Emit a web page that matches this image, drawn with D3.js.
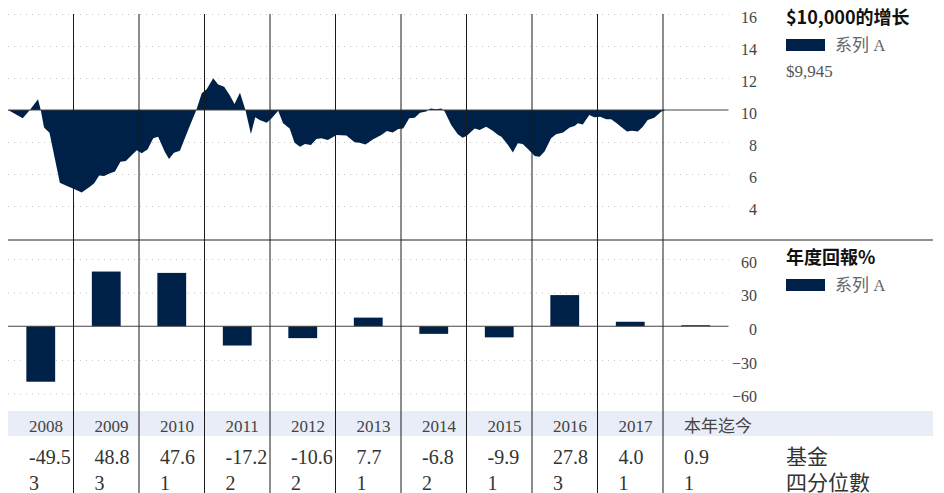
<!DOCTYPE html>
<html>
<head>
<meta charset="utf-8">
<script src="https://cdn.jsdelivr.net/npm/d3@7"></script>
<style>
  body { margin: 0; background: #fff; }
</style>
</head>
<body>
<div class="chart"></div>
<script>
const width = 944;
const height = 493;

const years = ["2008", "2009", "2010", "2011", "2012", "2013", "2014", "2015", "2016", "2017", "本年迄今"];
const annualReturn = [-49.5, 48.8, 47.6, -17.2, -10.6, 7.7, -6.8, -9.9, 27.8, 4.0, 0.9];
const quartile = [3, 3, 1, 2, 2, 1, 2, 1, 3, 1, 1];

// months since Jan 2008, value of $10,000 in thousands
const growthMonth = [0, 2.7, 4, 5.5, 6, 6.6, 7.6, 9.5, 10.7, 12.1, 13.5, 15, 15.8, 16.7, 17.6, 18.7, 19.6,
  20.6, 21.6, 22.6, 23.6, 24.5, 25.6, 26.6, 27.5, 28.7, 29.5, 30.4, 31.5, 33, 34.5, 35.5, 36.4, 37.6,
  38.5, 39.6, 40.6, 41.5, 42.5, 43.5, 44.5, 45.3, 46.1, 47.4, 48.3, 49.5, 50.4, 51.6, 52.5, 53.5, 54.4,
  55.5, 56.5, 57.4, 58.6, 60.2, 62, 63.5, 64.4, 65.5, 66.9, 68.4, 69.4, 70.5, 71.5, 72.4, 73.5, 74.5,
  75.5, 76.6, 77.4, 78.4, 79.4, 80, 81.2, 82.4, 83.3, 84, 85.5, 86.4, 87.6, 88.8, 89.8, 90.4, 91.6,
  92.5, 93.4, 94.3, 95.3, 96.5, 97.4, 98.3, 99.5, 100.4, 101.7, 102.9, 103.8, 104.4, 105.3, 106.5,
  107.4, 108.5, 109.6, 110.5, 111.4, 112.3, 113.4, 114.3, 115.4, 116.3, 117.2, 118.4, 119.7, 120.3];
const growthValue = [10.0, 9.48, 10.0, 10.67, 10.0, 8.9, 8.58, 5.46, 5.27, 5.06, 4.85, 5.2, 5.42, 5.9, 5.88, 6.04, 6.15,
  6.77, 6.81, 7.15, 7.48, 7.29, 7.54, 8.23, 8.33, 7.4, 6.94, 7.33, 7.46, 8.75, 10.0, 11.04, 11.29, 11.98,
  11.6, 11.46, 10.94, 10.38, 11.08, 10.0, 8.5, 9.54, 9.38, 9.21, 9.48, 9.96, 9.17, 8.85, 7.96, 7.71, 7.88,
  7.81, 8.19, 8.23, 8.13, 8.44, 8.4, 7.98, 7.96, 7.85, 8.17, 8.44, 8.69, 8.6, 8.81, 8.85, 9.48, 9.52,
  9.83, 9.9, 10.1, 10.04, 10.1, 9.9, 9.06, 8.48, 8.27, 8.38, 8.85, 8.75, 8.96, 8.71, 8.44, 8.33, 7.81,
  7.35, 7.92, 7.88, 7.54, 7.13, 7.08, 7.4, 8.23, 8.48, 8.6, 8.9, 9.0, 9.17, 9.1, 9.69,
  9.54, 9.58, 9.42, 9.42, 9.21, 8.96, 8.65, 8.71, 8.65, 8.96, 9.38, 9.52, 9.9, 9.95];

const growthTicks = [4, 6, 8, 10, 12, 14, 16];
const returnTicks = [-60, -30, 0, 30, 60];
const growthTitle = "$10,000的增长";
const returnTitle = "年度回報%";
const seriesName = "系列 A";
const finalValue = "$9,945";
const rowLabels = ["基金", "四分位數"];

const navy = "#002147";
const serif = "'Liberation Serif', 'Noto Sans CJK SC', serif";
const sans = "'Noto Sans CJK SC', sans-serif";
const left = 8;
const plotRight = 728.5;
const fullRight = 933;

const band = d3.scaleBand()
  .domain(years)
  .range([left, plotRight])
  .paddingInner(0.56)
  .paddingOuter(0.28);
const step = band.step();
const colStart = (i) => left + i * step;

const x = d3.scaleLinear()
  .domain([0, 12 * years.length])
  .range([left, plotRight]);

const yG = d3.scaleLinear().domain([4, 16]).range([206, 14]);
const yR = d3.scaleLinear().domain([-60, 60]).range([393.5, 259]);

const svg = d3.select(".chart")
  .append("svg")
  .attr("width", width)
  .attr("height", height)
  .style("font-family", serif);

// table band
svg.append("rect")
  .attr("x", left)
  .attr("y", 411)
  .attr("width", fullRight - left)
  .attr("height", 25)
  .attr("fill", "#e8edf7");

// dotted grids
const grid = (scale, ticks) => svg.append("g")
  .attr("transform", `translate(${left},0)`)
  .call(d3.axisRight(scale).tickValues(ticks).tickSize(plotRight - left).tickFormat(""))
  .call(g => g.select(".domain").remove())
  .call(g => g.selectAll("line")
    .attr("stroke", "#c4c4c4")
    .attr("stroke-dasharray", "1,5"));

grid(yG, growthTicks.filter(d => d !== 10));
grid(yR, returnTicks.filter(d => d !== 0));

// growth area
const points = growthMonth.map((m, i) => ({ m, v: growthValue[i] }));
const area = d3.area()
  .x(d => x(d.m))
  .y0(yG(10))
  .y1(d => yG(d.v));

svg.append("path")
  .datum(points)
  .attr("d", area)
  .attr("fill", navy);

// annual return bars
svg.append("g")
  .selectAll("rect")
  .data(annualReturn)
  .join("rect")
  .attr("x", (d, i) => band(years[i]))
  .attr("width", band.bandwidth())
  .attr("y", d => yR(Math.max(0, d)))
  .attr("height", d => Math.abs(yR(d) - yR(0)))
  .attr("fill", navy);

// baselines
svg.append("line")
  .attr("x1", left).attr("x2", plotRight)
  .attr("y1", yG(10)).attr("y2", yG(10))
  .attr("stroke", "#444");
svg.append("line")
  .attr("x1", left).attr("x2", plotRight)
  .attr("y1", yR(0)).attr("y2", yR(0))
  .attr("stroke", "#444");
svg.append("line")
  .attr("x1", left).attr("x2", fullRight)
  .attr("y1", 240).attr("y2", 240)
  .attr("stroke", "#222");

// column dividers
svg.append("g")
  .selectAll("line")
  .data(years.slice(1))
  .join("line")
  .attr("x1", (d, i) => colStart(i + 1))
  .attr("x2", (d, i) => colStart(i + 1))
  .attr("y1", yG(16))
  .attr("y2", height)
  .attr("stroke", "#1a1a1a");

// value axes
const valueAxis = (scale, ticks) => svg.append("g")
  .attr("transform", "translate(757,0)")
  .call(d3.axisLeft(scale).tickValues(ticks).tickSize(0).tickPadding(0))
  .attr("font-family", serif)
  .call(g => g.select(".domain").remove())
  .call(g => g.selectAll("text")
    .attr("y", 3)
    .attr("font-size", 16)
    .style("font-family", serif)
    .attr("fill", "#444"));

valueAxis(yG, growthTicks);
valueAxis(yR, returnTicks);

// legends
const legend = (y, title, extra) => {
  const g = svg.append("g").attr("transform", `translate(786,${y})`);
  g.append("text")
    .attr("font-size", 18)
    .attr("font-weight", "bold")
    .style("font-family", sans)
    .attr("fill", "#111")
    .text(title);
  g.append("rect")
    .attr("y", 15)
    .attr("width", 39)
    .attr("height", 12)
    .attr("fill", navy);
  g.append("text")
    .attr("x", 49)
    .attr("y", 27)
    .attr("font-size", 17)
    .style("font-family", serif)
    .attr("fill", "#666")
    .text(seriesName);
  if (extra) {
    g.append("text")
      .attr("y", 53)
      .attr("font-size", 17)
      .style("font-family", serif)
      .attr("fill", "#555")
      .text(extra);
  }
};

legend(24, growthTitle, finalValue);
legend(264, returnTitle);

// table rows
const row = (data, y, size, fill, fmt) => svg.append("g")
  .selectAll("text")
  .data(data)
  .join("text")
  .attr("x", (d, i) => colStart(i) + 21)
  .attr("y", y)
  .attr("font-size", size)
  .style("font-family", serif)
  .attr("fill", fill)
  .text(fmt);

row(years, 432, 17, "#444", d => d)
  .filter(d => d.length > 4)
  .attr("font-size", 18);
row(annualReturn, 464, 20, "#333", d => d.toFixed(1));
row(quartile, 490, 20, "#333", d => d);

svg.append("g")
  .selectAll("text")
  .data(rowLabels)
  .join("text")
  .attr("x", 786)
  .attr("y", (d, i) => 464 + i * 26)
  .attr("font-size", 21)
  .style("font-family", serif)
  .attr("fill", "#333")
  .text(d => d);
</script>
</body>
</html>
